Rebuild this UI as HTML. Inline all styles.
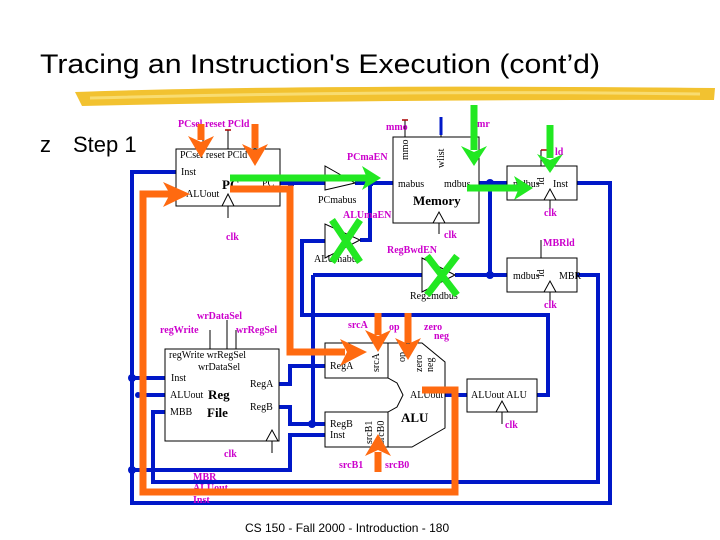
<!DOCTYPE html>
<html><head><meta charset="utf-8"><style>
html,body{margin:0;padding:0;background:#fff;}
svg{display:block;}
.m{fill:#cc00cc;font-family:"Liberation Serif",serif;font-size:10px;font-weight:bold;}
.k{fill:#000;font-family:"Liberation Serif",serif;font-size:10px;}
.kb{fill:#000;font-family:"Liberation Serif",serif;font-size:13px;font-weight:bold;}
</style></head><body>
<svg width="720" height="540" viewBox="0 0 720 540" xmlns="http://www.w3.org/2000/svg">
<!-- title -->
<text x="40" y="73" font-family="Liberation Sans, sans-serif" font-size="27" fill="#000" textLength="560" lengthAdjust="spacingAndGlyphs">Tracing an Instruction's Execution (cont’d)</text>
<path d="M75,92 Q300,84 715,88 L714,100 Q400,99 82,106 Z" fill="#f2c230"/>
<path d="M90,98 Q400,90 700,94" stroke="#f8dc70" stroke-width="3" fill="none"/>
<text x="40" y="152" font-family="Liberation Sans, sans-serif" font-size="22" fill="#000">z</text>
<text x="73" y="152" font-family="Liberation Sans, sans-serif" font-size="22" fill="#000">Step 1</text>
<text x="245" y="532" font-family="Liberation Sans, sans-serif" font-size="12" fill="#000">CS 150 - Fall 2000 - Introduction - 180</text>

<!-- blue wires -->
<g stroke="#0018c8" stroke-width="4" fill="none">
<path d="M176,172 H132 V503 H610 V183 H577"/>
<path d="M132,378 H165"/>
<path d="M132,470 H290 V435 H325"/>
<path d="M577,275 H598 V482 H153 V412 H165"/>
<path d="M138,395 H165"/>
<path d="M280,183 H325"/>
<path d="M355,183 H393"/>
<path d="M360,240 H370 V183"/>
<path d="M325,241 H302 V315 H548 V395 H537"/>
<path d="M445,395 H467"/>
<path d="M479,183 H507"/>
<path d="M490,183 V275"/>
<path d="M313,275 H422"/>
<path d="M455,275 H507"/>
<path d="M313,275 V424"/>
<path d="M279,384 H290 V366 H325"/>
<path d="M279,407 H290 V424 H325"/>
</g>
<g fill="#0018c8">
<circle cx="132" cy="378" r="4"/><circle cx="132" cy="470" r="4"/><circle cx="138" cy="395" r="3"/>
<circle cx="312" cy="424" r="4"/><circle cx="490" cy="183" r="4"/><circle cx="490" cy="275" r="4"/>
<rect x="288" y="180" width="6" height="6"/><rect x="367" y="180" width="6" height="6"/>
</g>

<!-- boxes -->
<g stroke="#000" stroke-width="1" fill="#fff">
<rect x="176" y="149" width="104" height="57"/>
<rect x="393" y="137" width="86" height="86"/>
<rect x="507" y="166" width="70" height="34"/>
<rect x="507" y="258" width="70" height="34"/>
<rect x="165" y="349" width="114" height="92"/>
<rect x="467" y="379" width="70" height="33"/>
<path d="M325,343 H422 L445,362 V428 L412,447 H325 V412 H388 L397,407 L403,395 L397,383 L388,378 H325 Z"/>
<path d="M388,343 V378 M388,412 V447 M325,378 V343 M325,412 V447"/>
</g>
<g stroke="#000" stroke-width="1" fill="none">
<path d="M222,206 L228,194 L234,206"/><path d="M228,206 V218"/>
<path d="M433,223 L439,212 L445,223"/><path d="M439,223 V234"/>
<path d="M544,200 L550,189 L556,200"/><path d="M550,200 V212"/>
<path d="M544,292 L550,281 L556,292"/><path d="M550,292 V304"/>
<path d="M266,441 L272,430 L278,441"/><path d="M272,441 V453"/>
<path d="M496,412 L502,401 L508,412"/><path d="M502,412 V424"/>
<path d="M325,166 V190 L355,183 Z"/><path d="M325,224 V258 L360,240 Z"/><path d="M422,258 V292 L455,275 Z"/>
<path d="M203,149 V130 M228,149 V130 M255,149 V130"/>
<path d="M405,137 V120 M441,137 V117 M474,137 V118"/>
<path d="M541,166 V150 M541,258 V240"/>
<path d="M210,349 V330 M227,349 V320 M236,349 V330"/>
</g>
<path d="M441,117 V135" stroke="#0018c8" stroke-width="3"/>
<g stroke="#aa0000" stroke-width="1.5"><path d="M402,120 H408 M225,130 H231 M347,180 H353 M338,352 H344 M541,150 H547"/></g>

<!-- labels -->
<text class="m" x="178" y="127">PCsel reset PCld</text>
<text class="k" x="180" y="158">PCsel reset PCld</text>
<text class="k" x="181" y="175">Inst</text>
<text class="k" x="186" y="197">ALUout</text>
<text class="kb" x="222" y="189">PC</text>
<text class="k" x="262" y="186">PC</text>
<text class="m" x="226" y="240">clk</text>
<text class="m" x="386" y="130">mmo</text>
<text class="m" x="477" y="127">mr</text>
<text class="k" transform="translate(408,160) rotate(-90)">mmo</text>
<text class="k" transform="translate(444,168) rotate(-90)">wlist</text>
<text class="k" x="398" y="187">mabus</text>
<text class="k" x="444" y="187">mdbus</text>
<text class="kb" x="413" y="205">Memory</text>
<text class="m" x="444" y="238">clk</text>
<text class="m" x="347" y="160">PCmaEN</text>
<text class="k" x="318" y="203">PCmabus</text>
<text class="m" x="343" y="218">ALUmaEN</text>
<text class="k" x="314" y="262">ALUmabus</text>
<text class="m" x="387" y="253">RegBwdEN</text>
<text class="k" x="410" y="299">Reg2mdbus</text>
<text class="k" transform="translate(544,185) rotate(-90)">ld</text>
<text class="m" x="555" y="155">ld</text>
<text class="k" x="513" y="187">mdbus</text>
<text class="k" x="553" y="187">Inst</text>
<text class="m" x="544" y="216">clk</text>
<text class="m" x="543" y="246">MBRld</text>
<text class="k" transform="translate(544,277) rotate(-90)">ld</text>
<text class="k" x="513" y="279">mdbus</text>
<text class="k" x="559" y="279">MBR</text>
<text class="m" x="544" y="308">clk</text>
<text class="m" x="197" y="319">wrDataSel</text>
<text class="m" x="160" y="333">regWrite</text>
<text class="m" x="236" y="333">wrRegSel</text>
<text class="k" x="169" y="358">regWrite wrRegSel</text>
<text class="k" x="198" y="370">wrDataSel</text>
<text class="k" x="171" y="381">Inst</text>
<text class="k" x="170" y="398">ALUout</text>
<text class="kb" x="208" y="399">Reg</text>
<text class="k" x="170" y="415">MBB</text>
<text class="kb" x="207" y="417">File</text>
<text class="k" x="250" y="387">RegA</text>
<text class="k" x="250" y="410">RegB</text>
<text class="m" x="224" y="457">clk</text>
<text class="m" x="193" y="480">MBR</text>
<text class="m" x="193" y="491">ALUout</text>
<text class="m" x="193" y="503">Inst</text>
<text class="m" x="348" y="328">srcA</text>
<text class="m" x="389" y="330">op</text>
<text class="m" x="424" y="330">zero</text>
<text class="m" x="434" y="339">neg</text>
<text class="k" x="330" y="369">RegA</text>
<text class="k" transform="translate(379,372) rotate(-90)">srcA</text>
<text class="k" transform="translate(405,362) rotate(-90)">op</text>
<text class="k" transform="translate(422,372) rotate(-90)">zero</text>
<text class="k" transform="translate(433,372) rotate(-90)">neg</text>
<text class="k" x="410" y="398">ALUout</text>
<text class="kb" x="401" y="422">ALU</text>
<text class="k" x="330" y="427">RegB</text>
<text class="k" x="330" y="438">Inst</text>
<text class="k" transform="translate(372,444) rotate(-90)">srcB1</text>
<text class="k" transform="translate(384,444) rotate(-90)">srcB0</text>
<text class="m" x="339" y="468">srcB1</text>
<text class="m" x="385" y="468">srcB0</text>
<text class="k" x="471" y="398">ALUout ALU</text>
<text class="m" x="505" y="428">clk</text>

<!-- orange -->
<g stroke="#ff6a10" stroke-width="7" fill="none" stroke-linejoin="miter">
<path d="M422,390 H455 V492 H143 V194 H170"/>
<path d="M230,189 H290 V352 H345"/>
<path d="M201,124 V140"/><path d="M255,124 V148"/>
<path d="M378,313 V335"/><path d="M408,313 V343"/><path d="M378,472 V452"/>
</g>
<g fill="#ff6a10">
<path d="M163,182 L190,194 L163,207 L170,194 Z"/>
<path d="M340,339 L367,352 L340,366 L347,352 Z"/>
<path d="M188,136 L201,158 L214,136 L201,142 Z"/>
<path d="M242,144 L255,166 L268,144 L255,150 Z"/>
<path d="M365,330 L378,352 L391,330 L378,336 Z"/>
<path d="M395,338 L408,360 L421,338 L408,344 Z"/>
<path d="M365,456 L378,434 L391,456 L378,450 Z"/>
</g>

<!-- green -->
<g stroke="#22e822" stroke-width="7" fill="none">
<path d="M230,178 H368"/>
<path d="M474,105 V150"/>
<path d="M550,125 V158"/>
<path d="M467,188 H520"/>
<path d="M332,220 L360,262 M360,220 L332,262"/>
<path d="M427,256 L457,295 M457,256 L427,295"/>
</g>
<g fill="#22e822">
<path d="M362,166 L381,178 L362,190 L367,178 Z"/>
<path d="M461,146 L474,166 L487,146 L474,152 Z"/>
<path d="M537,154 L550,173 L563,154 L550,160 Z"/>
<path d="M514,176 L533,188 L514,200 L519,188 Z"/>
</g>
</svg>
</body></html>
